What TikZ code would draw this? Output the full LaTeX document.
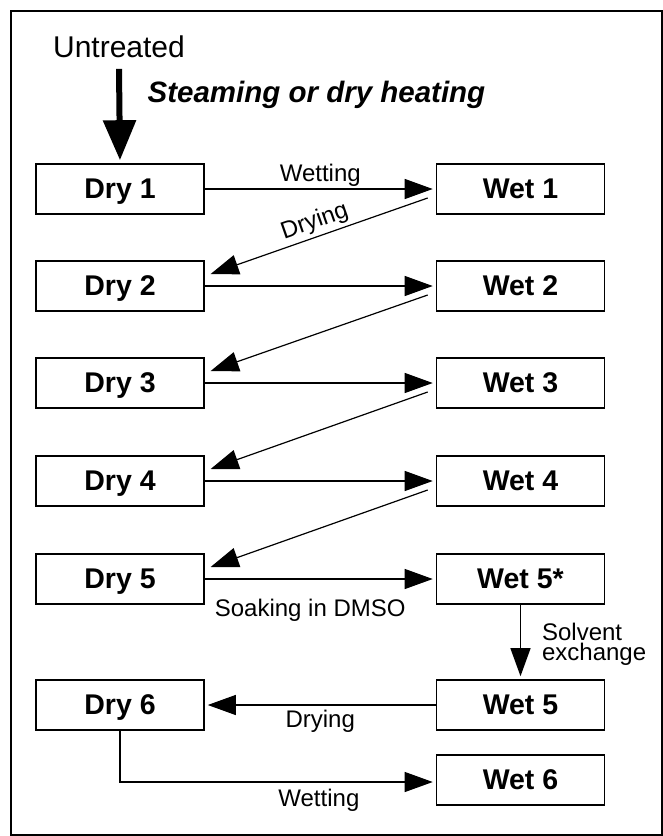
\documentclass[tikz,border=0pt]{standalone}
\usepackage{fontspec}
\setmainfont{Liberation Sans}
\usetikzlibrary{arrows.meta}

\begin{document}
\begin{tikzpicture}[x=1pt,y=-1pt,line width=1.2pt,
        box/.style={draw,line width=1.6pt,minimum width=168pt,minimum height=50pt,inner sep=0pt,
                    text depth=0pt,font=\fontsize{28.5}{32}\selectfont\bfseries},
        lbl/.style={font=\fontsize{24}{20}\selectfont,inner sep=0pt},
        tip/.style={arrows = -{Triangle[length=28pt,width=20pt]},shorten >=3pt}]

            %\draw [help lines,step=50] (0,0) grid (663,836);
            \useasboundingbox (0,0) rectangle (663,836);
            \draw[line width=1.5pt] (11,11) rectangle (662,835);

            \path   (119,57) node (untreated) [anchor=base,inner sep=0pt,font=\fontsize{30}{32}\selectfont] {Untreated}
                    (147,102) node (heating) [anchor=base west,inner sep=0pt,font=\fontsize{29.5}{32}\selectfont\bfseries\itshape] {Steaming or dry heating};

            \path   (120,189) node (dry1) [box] {Dry 1}
                    (120,286) node (dry2) [box] {Dry 2}
                    (120,383) node (dry3) [box] {Dry 3}
                    (120,481) node (dry4) [box] {Dry 4}
                    (120,579) node (dry5) [box] {Dry 5}
                    (120,705) node (dry6) [box] {Dry 6}
                    (520.5,189) node (wet1) [box] {Wet 1}
                    (520.5,286) node (wet2) [box] {Wet 2}
                    (520.5,383) node (wet3) [box] {Wet 3}
                    (520.5,481) node (wet4) [box] {Wet 4}
                    (520.5,579) node (wetstar) [box] {Wet 5*}
                    (520.5,705) node (wet5) [box] {Wet 5}
                    (520.5,780) node (wet6) [box] {Wet 6};

            \draw[line width=6pt,arrows = -{Triangle[length=40pt,width=32pt]},shorten >=3pt] ([yshift=-11pt]untreated.south) -- (dry1.north);

            \draw[tip] (dry1) -- (wet1) node[lbl,midway,above=2pt] {Wetting};
            \draw[tip] ([xshift=-8pt,yshift=-9pt]wet1.west) -- ([xshift=3pt,yshift=11pt]dry2.east)
                       node[lbl,midway,above=3pt,sloped,xshift=2pt] {Drying};
            \draw[tip] (dry2) -- (wet2);
            \draw[tip] ([xshift=-8pt,yshift=-9pt]wet2.west) -- ([xshift=3pt,yshift=11pt]dry3.east);
            \draw[tip] (dry3) -- (wet3);
            \draw[tip] ([xshift=-8pt,yshift=-9pt]wet3.west) -- ([xshift=3pt,yshift=11pt]dry4.east);
            \draw[tip] (dry4) -- (wet4);
            \draw[tip] ([xshift=-8pt,yshift=-9pt]wet4.west) -- ([xshift=3pt,yshift=11pt]dry5.east);
            \draw[tip] (dry5) -- (wetstar) node[lbl,midway,below=20pt,xshift=-10pt] {Soaking in DMSO};

            \draw[tip] (wetstar) -- (wet5) node[lbl,midway,right=21pt,align=left,yshift=-2pt] {Solvent\\exchange};
            \draw[tip] (wet5) -- (dry6) node[lbl,midway,below=5pt] {Drying};
            \draw[tip] (dry6.south) |- ([yshift=-2pt]wet6.west) node[lbl,pos=0.815,below=6pt] {Wetting};

        \end{tikzpicture}
\end{document}
